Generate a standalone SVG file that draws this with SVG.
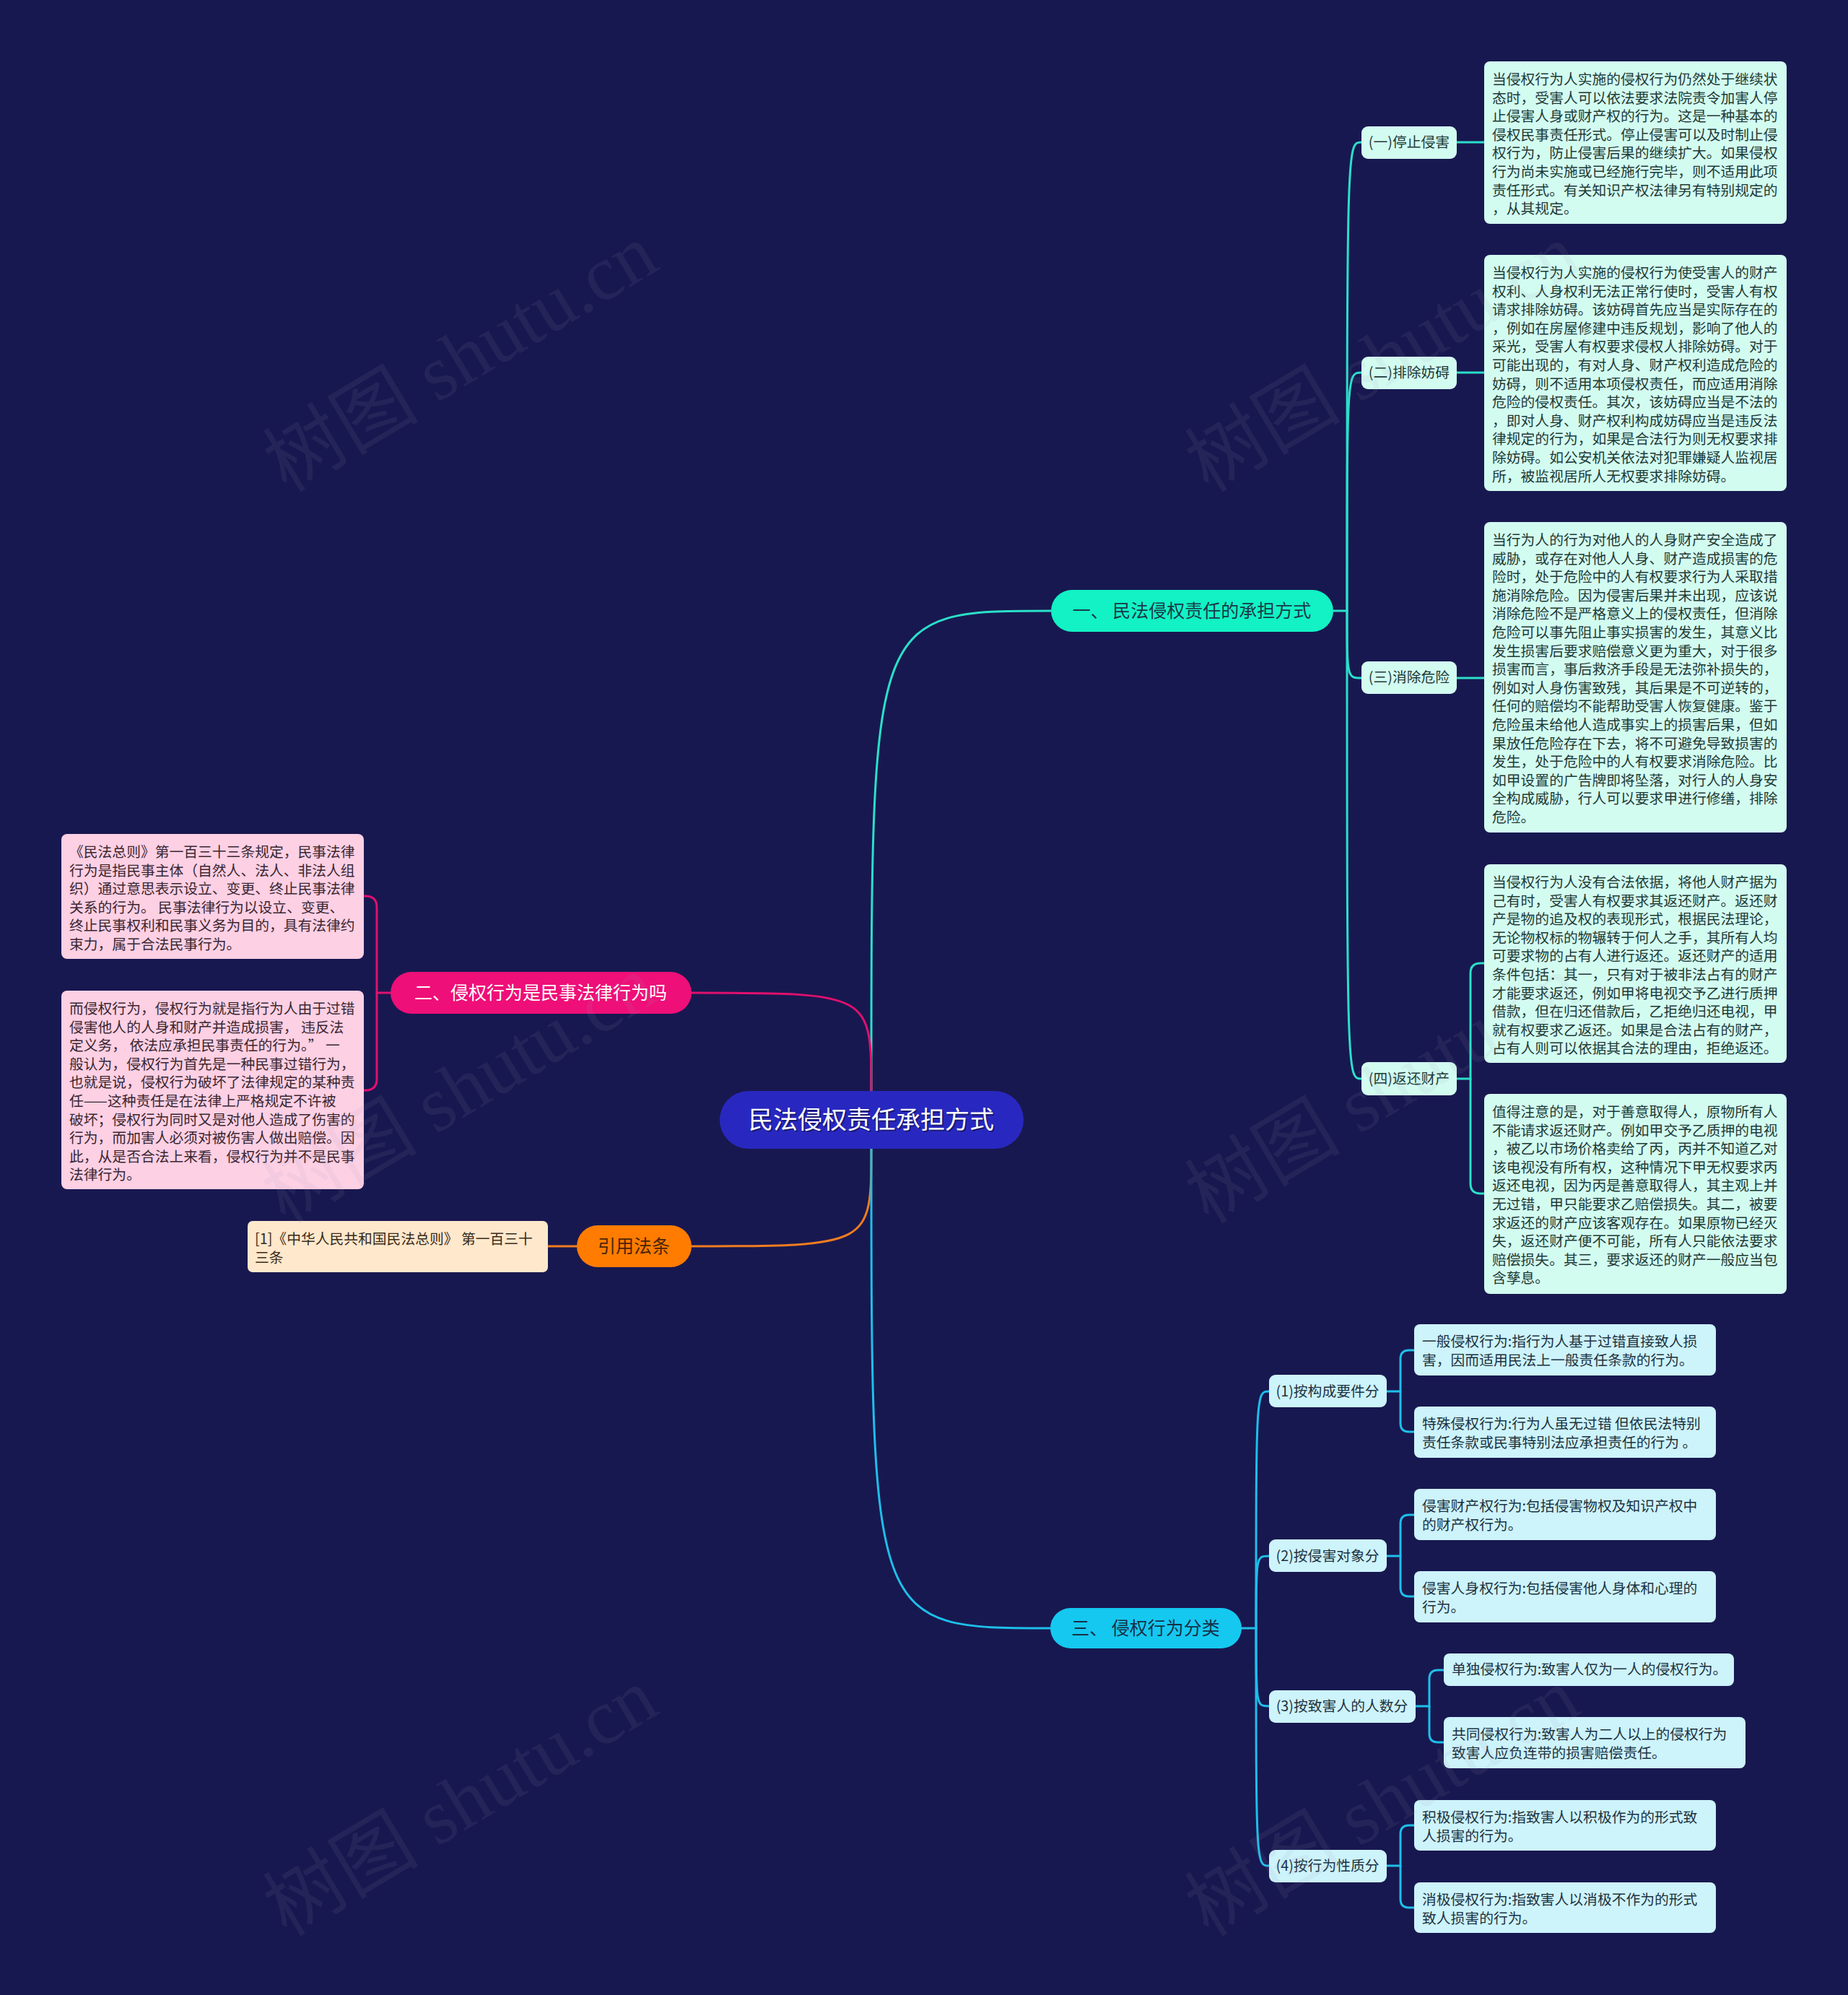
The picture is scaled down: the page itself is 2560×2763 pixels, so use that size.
<svg xmlns="http://www.w3.org/2000/svg" width="2560" height="2763" viewBox="0 0 2560 2763">
<style>
.t{font-family:"Noto Sans CJK SC","Noto Sans",sans-serif;font-size:19.8px}
.gt{fill:#1d3a36}
.bt{fill:#1c3240}
.pt{fill:#3a2630}
.ot{fill:#3a2a18}
.mint{fill:#d3fcf1}
.lblue{fill:#cdf3fb}
.pink{fill:#fdd0e4}
.peach{fill:#ffe8cc}
.big{font-family:"Noto Sans CJK SC","Noto Sans",sans-serif;font-size:25px;text-anchor:middle}
.lbl{text-anchor:middle}
.c{fill:none;stroke-width:3;stroke-linecap:round}
.teal{stroke:#2ae0c8}
.cyan{stroke:#1ebfea}
.pk{stroke:#e0106e}
.or{stroke:#f07d20}
.wm{font-family:"Liberation Serif","Noto Sans CJK SC",serif;font-size:108px;fill:#9a9ab8;opacity:0.09}
</style>
<rect x="0" y="0" width="2560" height="2763" fill="#181850"/>

<g id="connectors">
  <path class="c teal" d="M1207,1511 C1207,846 1207,846 1456,846"/>
  <path class="c pk" d="M1207,1511 C1207,1375 1207,1375 958,1375"/>
  <path class="c or" d="M1207,1591 C1207,1726 1207,1726 958,1726"/>
  <path class="c cyan" d="M1207,1591 C1207,2255 1207,2255 1455,2255"/>
  <path class="c teal" d="M1847,846 L1866,846 C1866,197 1866,197 1886,197"/>
  <path class="c teal" d="M1866,846 C1866,516 1866,516 1886,516"/>
  <path class="c teal" d="M1866,846 C1866,939 1866,939 1886,939"/>
  <path class="c teal" d="M1866,846 C1866,1494 1866,1494 1886,1494"/>
  <path class="c teal" d="M2018,197 H2056"/>
  <path class="c teal" d="M2018,516 H2056"/>
  <path class="c teal" d="M2018,939 H2056"/>
  <path class="c teal" d="M2018,1494 H2037 V1348 Q2037,1334 2051,1334 H2056"/>
  <path class="c teal" d="M2037,1494 V1639 Q2037,1653 2051,1653 H2056"/>
  <path class="c pk" d="M541,1375 H522 V1257 Q522,1241 506,1241 H504"/>
  <path class="c pk" d="M522,1375 V1494 Q522,1510 506,1510 H504"/>
  <path class="c or" d="M799,1726 H759"/>
  <path class="c cyan" d="M1720,2255 L1740,2255 C1740,1927 1740,1927 1758,1927"/>
  <path class="c cyan" d="M1740,2255 C1740,2155 1740,2155 1758,2155"/>
  <path class="c cyan" d="M1740,2255 C1740,2363 1740,2363 1758,2363"/>
  <path class="c cyan" d="M1740,2255 C1740,2584 1740,2584 1758,2584"/>
  <path class="c cyan" d="M1921,1927 H1940 V1882 Q1940,1870 1952,1870 H1959"/>
  <path class="c cyan" d="M1940,1927 V1971 Q1940,1983 1952,1983 H1959"/>
  <path class="c cyan" d="M1921,2155 H1940 V2110 Q1940,2098 1952,2098 H1959"/>
  <path class="c cyan" d="M1940,2155 V2199 Q1940,2211 1952,2211 H1959"/>
  <path class="c cyan" d="M1961,2363 H1980 V2325 Q1980,2313 1992,2313 H2000"/>
  <path class="c cyan" d="M1980,2363 V2401 Q1980,2413 1992,2413 H2000"/>
  <path class="c cyan" d="M1921,2584 H1940 V2540 Q1940,2528 1952,2528 H1959"/>
  <path class="c cyan" d="M1940,2584 V2630 Q1940,2642 1952,2642 H1959"/>
</g>

<g id="root">
  <rect x="997" y="1511" width="421" height="80" rx="40" fill="#2828c0"/>
  <text x="1209" y="1565" font-family="'Noto Sans CJK SC','Noto Sans',sans-serif" font-size="34" text-anchor="middle" fill="#101040" opacity="0.6">民法侵权责任承担方式</text>
  <text x="1207" y="1563" font-family="'Noto Sans CJK SC','Noto Sans',sans-serif" font-size="34" text-anchor="middle" fill="#ffffff">民法侵权责任承担方式</text>
</g>

<g id="b1">
  <rect x="1456" y="817" width="391" height="58" rx="29" fill="#12f2c4"/>
  <text class="big" x="1651" y="855" fill="#1a3a48">一、 民法侵权责任的承担方式</text>
</g>
<g id="b2">
  <rect x="541" y="1346" width="417" height="58" rx="29" fill="#ee0f78"/>
  <text class="big" x="749" y="1384" fill="#ffffff">二、侵权行为是民事法律行为吗</text>
</g>
<g id="b3">
  <rect x="799" y="1697" width="159" height="58" rx="29" fill="#ff7c00"/>
  <text class="big" x="878" y="1735" fill="#4a2408">引用法条</text>
</g>
<g id="b4">
  <rect x="1455" y="2227" width="265" height="56" rx="28" fill="#15c8f0"/>
  <text class="big" x="1587" y="2264" fill="#183048">三、 侵权行为分类</text>
</g>

<g id="s1"><rect class="mint" x="1886" y="175" width="132" height="45" rx="9"/><text class="t gt lbl" x="1952" y="204">(一)停止侵害</text></g>
<g id="s2"><rect class="mint" x="1886" y="494" width="132" height="45" rx="9"/><text class="t gt lbl" x="1952" y="523">(二)排除妨碍</text></g>
<g id="s3"><rect class="mint" x="1886" y="916" width="132" height="45" rx="9"/><text class="t gt lbl" x="1952" y="945">(三)消除危险</text></g>
<g id="s4"><rect class="mint" x="1886" y="1471" width="132" height="46" rx="9"/><text class="t gt lbl" x="1952" y="1501">(四)返还财产</text></g>

<g id="n1">
  <rect class="mint" x="2056" y="85" width="419" height="225" rx="8"/>
  <text class="t gt" x="2067" y="117"><tspan x="2067" dy="0">当侵权行为人实施的侵权行为仍然处于继续状</tspan><tspan x="2067" dy="25.6">态时，受害人可以依法要求法院责令加害人停</tspan><tspan x="2067" dy="25.6">止侵害人身或财产权的行为。这是一种基本的</tspan><tspan x="2067" dy="25.6">侵权民事责任形式。停止侵害可以及时制止侵</tspan><tspan x="2067" dy="25.6">权行为，防止侵害后果的继续扩大。如果侵权</tspan><tspan x="2067" dy="25.6">行为尚未实施或已经施行完毕，则不适用此项</tspan><tspan x="2067" dy="25.6">责任形式。有关知识产权法律另有特别规定的</tspan><tspan x="2067" dy="25.6">，从其规定。</tspan></text>
</g>
<g id="n2">
  <rect class="mint" x="2056" y="353" width="419" height="327" rx="8"/>
  <text class="t gt" x="2067" y="385"><tspan x="2067" dy="0">当侵权行为人实施的侵权行为使受害人的财产</tspan><tspan x="2067" dy="25.6">权利、人身权利无法正常行使时，受害人有权</tspan><tspan x="2067" dy="25.6">请求排除妨碍。该妨碍首先应当是实际存在的</tspan><tspan x="2067" dy="25.6">，例如在房屋修建中违反规划，影响了他人的</tspan><tspan x="2067" dy="25.6">采光，受害人有权要求侵权人排除妨碍。对于</tspan><tspan x="2067" dy="25.6">可能出现的，有对人身、财产权利造成危险的</tspan><tspan x="2067" dy="25.6">妨碍，则不适用本项侵权责任，而应适用消除</tspan><tspan x="2067" dy="25.6">危险的侵权责任。其次，该妨碍应当是不法的</tspan><tspan x="2067" dy="25.6">，即对人身、财产权利构成妨碍应当是违反法</tspan><tspan x="2067" dy="25.6">律规定的行为，如果是合法行为则无权要求排</tspan><tspan x="2067" dy="25.6">除妨碍。如公安机关依法对犯罪嫌疑人监视居</tspan><tspan x="2067" dy="25.6">所，被监视居所人无权要求排除妨碍。</tspan></text>
</g>
<g id="n3">
  <rect class="mint" x="2056" y="723" width="419" height="430" rx="8"/>
  <text class="t gt" x="2067" y="755"><tspan x="2067" dy="0">当行为人的行为对他人的人身财产安全造成了</tspan><tspan x="2067" dy="25.6">威胁，或存在对他人人身、财产造成损害的危</tspan><tspan x="2067" dy="25.6">险时，处于危险中的人有权要求行为人采取措</tspan><tspan x="2067" dy="25.6">施消除危险。因为侵害后果并未出现，应该说</tspan><tspan x="2067" dy="25.6">消除危险不是严格意义上的侵权责任，但消除</tspan><tspan x="2067" dy="25.6">危险可以事先阻止事实损害的发生，其意义比</tspan><tspan x="2067" dy="25.6">发生损害后要求赔偿意义更为重大，对于很多</tspan><tspan x="2067" dy="25.6">损害而言，事后救济手段是无法弥补损失的，</tspan><tspan x="2067" dy="25.6">例如对人身伤害致残，其后果是不可逆转的，</tspan><tspan x="2067" dy="25.6">任何的赔偿均不能帮助受害人恢复健康。鉴于</tspan><tspan x="2067" dy="25.6">危险虽未给他人造成事实上的损害后果，但如</tspan><tspan x="2067" dy="25.6">果放任危险存在下去，将不可避免导致损害的</tspan><tspan x="2067" dy="25.6">发生，处于危险中的人有权要求消除危险。比</tspan><tspan x="2067" dy="25.6">如甲设置的广告牌即将坠落，对行人的人身安</tspan><tspan x="2067" dy="25.6">全构成威胁，行人可以要求甲进行修缮，排除</tspan><tspan x="2067" dy="25.6">危险。</tspan></text>
</g>
<g id="n4">
  <rect class="mint" x="2056" y="1197" width="419" height="275" rx="8"/>
  <text class="t gt" x="2067" y="1229"><tspan x="2067" dy="0">当侵权行为人没有合法依据，将他人财产据为</tspan><tspan x="2067" dy="25.6">己有时，受害人有权要求其返还财产。返还财</tspan><tspan x="2067" dy="25.6">产是物的追及权的表现形式，根据民法理论，</tspan><tspan x="2067" dy="25.6">无论物权标的物辗转于何人之手，其所有人均</tspan><tspan x="2067" dy="25.6">可要求物的占有人进行返还。返还财产的适用</tspan><tspan x="2067" dy="25.6">条件包括：其一，只有对于被非法占有的财产</tspan><tspan x="2067" dy="25.6">才能要求返还，例如甲将电视交予乙进行质押</tspan><tspan x="2067" dy="25.6">借款，但在归还借款后，乙拒绝归还电视，甲</tspan><tspan x="2067" dy="25.6">就有权要求乙返还。如果是合法占有的财产，</tspan><tspan x="2067" dy="25.6">占有人则可以依据其合法的理由，拒绝返还。</tspan></text>
</g>
<g id="n5">
  <rect class="mint" x="2056" y="1515" width="419" height="277" rx="8"/>
  <text class="t gt" x="2067" y="1547"><tspan x="2067" dy="0">值得注意的是，对于善意取得人，原物所有人</tspan><tspan x="2067" dy="25.6">不能请求返还财产。例如甲交予乙质押的电视</tspan><tspan x="2067" dy="25.6">，被乙以市场价格卖给了丙，丙并不知道乙对</tspan><tspan x="2067" dy="25.6">该电视没有所有权，这种情况下甲无权要求丙</tspan><tspan x="2067" dy="25.6">返还电视，因为丙是善意取得人，其主观上并</tspan><tspan x="2067" dy="25.6">无过错，甲只能要求乙赔偿损失。其二，被要</tspan><tspan x="2067" dy="25.6">求返还的财产应该客观存在。如果原物已经灭</tspan><tspan x="2067" dy="25.6">失，返还财产便不可能，所有人只能依法要求</tspan><tspan x="2067" dy="25.6">赔偿损失。其三，要求返还的财产一般应当包</tspan><tspan x="2067" dy="25.6">含孳息。</tspan></text>
</g>

<g id="p1">
  <rect class="pink" x="85" y="1155" width="419" height="173" rx="8"/>
  <text class="t pt" x="96" y="1187"><tspan x="96" dy="0">《民法总则》第一百三十三条规定，民事法律</tspan><tspan x="96" dy="25.6">行为是指民事主体（自然人、法人、非法人组</tspan><tspan x="96" dy="25.6">织）通过意思表示设立、变更、终止民事法律</tspan><tspan x="96" dy="25.6">关系的行为。 民事法律行为以设立、变更、</tspan><tspan x="96" dy="25.6">终止民事权利和民事义务为目的，具有法律约</tspan><tspan x="96" dy="25.6">束力，属于合法民事行为。</tspan></text>
</g>
<g id="p2">
  <rect class="pink" x="85" y="1372" width="419" height="275" rx="8"/>
  <text class="t pt" x="96" y="1404"><tspan x="96" dy="0">而侵权行为，侵权行为就是指行为人由于过错</tspan><tspan x="96" dy="25.6">侵害他人的人身和财产并造成损害， 违反法</tspan><tspan x="96" dy="25.6">定义务， 依法应承担民事责任的行为。” 一</tspan><tspan x="96" dy="25.6">般认为，侵权行为首先是一种民事过错行为，</tspan><tspan x="96" dy="25.6">也就是说，侵权行为破坏了法律规定的某种责</tspan><tspan x="96" dy="25.6">任——这种责任是在法律上严格规定不许被</tspan><tspan x="96" dy="25.6">破坏；侵权行为同时又是对他人造成了伤害的</tspan><tspan x="96" dy="25.6">行为，而加害人必须对被伤害人做出赔偿。因</tspan><tspan x="96" dy="25.6">此，从是否合法上来看，侵权行为并不是民事</tspan><tspan x="96" dy="25.6">法律行为。</tspan></text>
</g>
<g id="cite">
  <rect class="peach" x="343" y="1691" width="416" height="71" rx="7"/>
  <text class="t ot" x="353" y="1723"><tspan x="353" dy="0">[1]《中华人民共和国民法总则》 第一百三十</tspan><tspan x="353" dy="25.6">三条</tspan></text>
</g>

<g id="k1"><rect class="lblue" x="1758" y="1904" width="163" height="45" rx="9"/><text class="t bt lbl" x="1839" y="1934">(1)按构成要件分</text></g>
<g id="k2"><rect class="lblue" x="1758" y="2132" width="163" height="45" rx="9"/><text class="t bt lbl" x="1839" y="2162">(2)按侵害对象分</text></g>
<g id="k3"><rect class="lblue" x="1758" y="2341" width="203" height="45" rx="9"/><text class="t bt lbl" x="1859" y="2370">(3)按致害人的人数分</text></g>
<g id="k4"><rect class="lblue" x="1758" y="2562" width="163" height="45" rx="9"/><text class="t bt lbl" x="1839" y="2591">(4)按行为性质分</text></g>

<g id="a1"><rect class="lblue" x="1959" y="1834" width="418" height="71" rx="8"/><text class="t bt" x="1970" y="1865"><tspan x="1970" dy="0">一般侵权行为:指行为人基于过错直接致人损</tspan><tspan x="1970" dy="25.6">害，因而适用民法上一般责任条款的行为。</tspan></text></g>
<g id="a2"><rect class="lblue" x="1959" y="1948" width="418" height="71" rx="8"/><text class="t bt" x="1970" y="1979"><tspan x="1970" dy="0">特殊侵权行为:行为人虽无过错 但依民法特别</tspan><tspan x="1970" dy="25.6">责任条款或民事特别法应承担责任的行为 。</tspan></text></g>
<g id="b1n"><rect class="lblue" x="1959" y="2062" width="418" height="71" rx="8"/><text class="t bt" x="1970" y="2093"><tspan x="1970" dy="0">侵害财产权行为:包括侵害物权及知识产权中</tspan><tspan x="1970" dy="25.6">的财产权行为。</tspan></text></g>
<g id="b2n"><rect class="lblue" x="1959" y="2176" width="418" height="71" rx="8"/><text class="t bt" x="1970" y="2207"><tspan x="1970" dy="0">侵害人身权行为:包括侵害他人身体和心理的</tspan><tspan x="1970" dy="25.6">行为。</tspan></text></g>
<g id="c1n"><rect class="lblue" x="2000" y="2290" width="402" height="45" rx="8"/><text class="t bt" x="2011" y="2319">单独侵权行为:致害人仅为一人的侵权行为。</text></g>
<g id="c2n"><rect class="lblue" x="2000" y="2378" width="418" height="71" rx="8"/><text class="t bt" x="2011" y="2409"><tspan x="2011" dy="0">共同侵权行为:致害人为二人以上的侵权行为</tspan><tspan x="2011" dy="25.6">致害人应负连带的损害赔偿责任。</tspan></text></g>
<g id="d1n"><rect class="lblue" x="1959" y="2493" width="418" height="70" rx="8"/><text class="t bt" x="1970" y="2524"><tspan x="1970" dy="0">积极侵权行为:指致害人以积极作为的形式致</tspan><tspan x="1970" dy="25.6">人损害的行为。</tspan></text></g>
<g id="d2n"><rect class="lblue" x="1959" y="2607" width="418" height="70" rx="8"/><text class="t bt" x="1970" y="2638"><tspan x="1970" dy="0">消极侵权行为:指致害人以消极不作为的形式</tspan><tspan x="1970" dy="25.6">致人损害的行为。</tspan></text></g>

<g id="watermarks">
  <text class="wm" x="647" y="530" text-anchor="middle" transform="rotate(-31 647 511)">树图 shutu.cn</text>
  <text class="wm" x="1924" y="530" text-anchor="middle" transform="rotate(-31 1924 511)">树图 shutu.cn</text>
  <text class="wm" x="645" y="1543" text-anchor="middle" transform="rotate(-31 645 1524)">树图 shutu.cn</text>
  <text class="wm" x="1924" y="1543" text-anchor="middle" transform="rotate(-31 1924 1524)">树图 shutu.cn</text>
  <text class="wm" x="647" y="2530" text-anchor="middle" transform="rotate(-31 647 2511)">树图 shutu.cn</text>
  <text class="wm" x="1924" y="2530" text-anchor="middle" transform="rotate(-31 1924 2511)">树图 shutu.cn</text>
</g>
</svg>
